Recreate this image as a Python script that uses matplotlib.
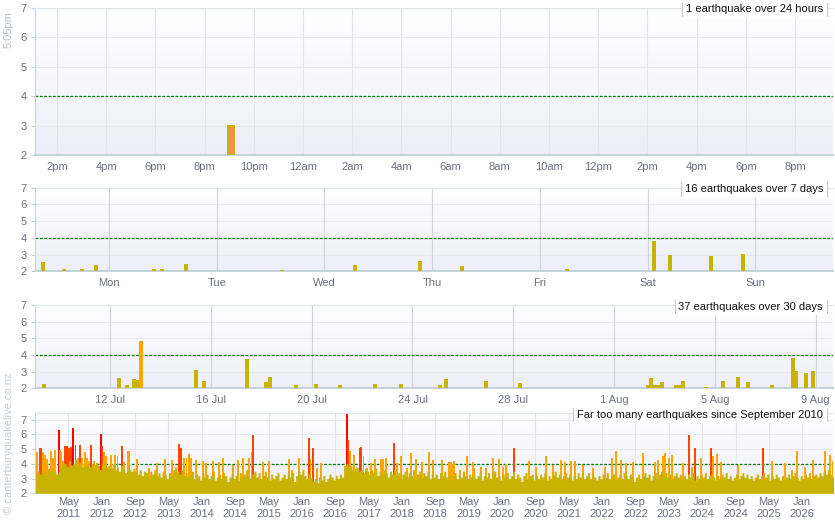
import numpy as np
import matplotlib
matplotlib.use('Agg')
import matplotlib.pyplot as plt
from matplotlib.colors import LinearSegmentedColormap
from matplotlib.lines import Line2D

plt.rcParams['font.family'] = ['Liberation Sans', 'DejaVu Sans']

OLIVE = '#c8b400'
ORANGE = '#ffa500'
REDORANGE = '#ff4500'
RED = '#ff0000'
GREY_TXT = '#6b7080'

# ---- 24 hours (x in hours since midnight of the first day)
day_hours = [21.08]
day_mags = [3.0]
hour_ticks = list(range(14, 45, 2))
hour_labels = ['2pm', '4pm', '6pm', '8pm', '10pm', '12am', '2am', '4am', '6am',
               '8am', '10am', '12pm', '2pm', '4pm', '6pm', '8pm']

# ---- 7 days (x in days from Monday 00:00)
week_days = [-0.613, -0.418, -0.251, -0.121, 0.418, 0.492, 0.715, 1.606,
             2.284, 2.888, 3.278, 4.253, 5.060, 5.209, 5.590, 5.887]
week_mags = [2.56, 2.14, 2.14, 2.38, 2.14, 2.14, 2.44, 2.08,
             2.38, 2.62, 2.32, 2.14, 3.83, 2.98, 2.92, 3.04]
week_labels = ['Mon', 'Tue', 'Wed', 'Thu', 'Fri', 'Sat', 'Sun']

# ---- 30 days (x in days from 12 Jul)
month_days = [-2.63, 0.345, 0.675, 0.94, 1.083, 1.23, 3.413, 3.73, 5.437, 6.19,
              6.35, 7.38, 8.175, 9.127, 10.516, 11.548, 13.095, 13.333, 14.92, 16.27,
              21.35, 21.47, 21.63, 21.75, 21.9, 22.46, 22.58, 22.74, 23.65, 24.33,
              24.92, 25.32, 26.27, 27.1, 27.22, 27.62, 27.9]
month_mags = [2.26, 2.62, 2.2, 2.56, 2.5, 4.84, 3.1, 2.44, 3.76, 2.36,
              2.66, 2.2, 2.26, 2.2, 2.26, 2.26, 2.2, 2.56, 2.44, 2.32,
              2.2, 2.62, 2.2, 2.2, 2.38, 2.2, 2.2, 2.44, 2.08, 2.44,
              2.68, 2.38, 2.2, 3.82, 3.04, 2.92, 3.04]
month_ticks = [0, 4, 8, 12, 16, 20, 24, 28]
month_labels = ['12 Jul', '16 Jul', '20 Jul', '24 Jul', '28 Jul', '1 Aug', '5 Aug', '9 Aug']

# ---- since Sep 2010 (decimal years), half-month background level
base_start = 2010.667
quake_base = [
    3.4, 3.5, 3.3, 3.6, 3.5, 3.4, 3.7, 3.5, 3.6, 3.4, 3.3, 3.5, 3.9, 4.1, 4.0, 3.8, 4.2, 3.9, 4.0, 4.3, 3.9, 4.1, 3.8, 4.0,
    3.9, 4.2, 3.8, 4.0, 3.7, 4.1, 3.9, 3.6, 4.0, 4.2, 3.8, 3.9, 3.7, 4.0, 3.6, 3.8, 3.5, 3.9, 3.7, 3.4, 3.8, 3.6, 3.5, 3.7,
    3.5, 3.3, 3.6, 3.2, 3.5, 3.4, 3.1, 3.5, 3.3, 3.6, 3.2, 3.4, 3.1, 3.5, 3.3, 3.0, 3.4, 3.2, 3.6, 3.8, 3.5, 3.3, 3.6, 3.2,
    3.4, 3.1, 3.3, 3.5, 3.0, 3.3, 3.2, 2.9, 3.4, 3.1, 3.3, 3.0, 3.2, 3.5, 2.9, 3.1, 3.3, 3.0, 3.4, 3.2, 2.8, 3.1, 3.3, 3.0,
    3.2, 2.9, 3.4, 3.1, 3.3, 3.6, 3.2, 3.0, 3.3, 3.5, 3.1, 3.4, 3.0, 3.2, 3.5, 3.1, 2.9, 3.3, 3.0, 3.2, 3.4, 2.9, 3.1, 3.3,
    3.0, 3.3, 3.1, 3.4, 2.8, 3.2, 3.5, 3.3, 3.6, 3.2, 3.0, 3.3, 3.1, 2.8, 3.0, 2.7, 3.1, 2.9, 3.2, 2.8, 3.0, 3.3, 3.1, 2.9,
    3.2, 3.0, 3.3, 3.1, 3.9, 4.0, 3.8, 3.9, 3.6, 3.7, 3.8, 3.5, 3.6, 3.4, 3.7, 3.5, 3.3, 3.6, 3.4, 3.7, 3.2, 3.5, 3.3, 3.6,
    3.4, 3.1, 3.5, 3.3, 3.6, 3.2, 3.4, 3.0, 3.3, 3.5, 3.1, 3.4, 3.2, 3.6, 3.0, 3.3, 3.5, 3.1, 3.4, 3.2, 3.5, 3.0, 3.3, 3.1,
    3.3, 3.0, 3.4, 3.2, 3.5, 3.1, 3.3, 2.9, 3.2, 3.4, 3.0, 3.3, 3.1, 3.5, 3.2, 3.0, 3.3, 3.1, 3.4, 3.0, 3.2, 3.4, 2.9, 3.2,
    3.1, 3.4, 3.0, 3.3, 3.5, 3.1, 3.2, 2.9, 3.3, 3.1, 3.4, 3.0, 3.2, 3.5, 3.0, 3.3, 3.1, 2.8, 3.2, 3.4, 3.0, 3.2, 3.3, 2.9,
    3.2, 3.0, 3.3, 3.1, 3.4, 2.9, 3.2, 3.0, 3.3, 3.5, 3.1, 3.3, 3.0, 3.2, 3.4, 3.1, 3.3, 2.9, 3.2, 3.0, 3.4, 3.1, 3.3, 3.0,
    3.2, 3.4, 3.0, 3.3, 3.1, 2.9, 3.2, 3.0, 3.3, 3.1, 3.4, 3.0, 3.2, 3.3, 2.9, 3.1, 3.3, 3.0, 3.4, 3.2, 3.0, 3.3, 3.1, 2.8,
    3.1, 3.3, 3.0, 3.2, 3.4, 3.1, 3.3, 2.9, 3.2, 3.4, 3.0, 3.3, 3.5, 3.2, 3.4, 3.1, 3.3, 3.0, 3.2, 3.4, 3.1, 3.3, 3.0, 3.2,
    3.0, 3.3, 3.1, 3.4, 2.9, 3.2, 3.0, 3.3, 3.1, 3.4, 3.0, 3.2, 3.3, 3.1, 2.9, 3.2, 3.0, 3.3, 3.1, 3.4, 3.0, 3.2, 2.9, 3.1,
    3.3, 3.0, 3.2, 3.4, 3.1, 3.3, 3.0, 3.2, 2.9, 3.1, 3.3, 3.0, 3.2, 3.4, 3.1, 3.3, 2.9, 3.2, 3.0, 3.3, 3.1, 2.9, 3.2, 3.0,
    3.1, 3.3, 3.0, 3.2, 3.4, 3.1, 2.9, 3.2, 3.0, 3.3, 3.1, 3.4, 3.0, 3.2, 3.3, 3.1, 3.4, 3.2, 3.5, 3.3, 3.6, 3.3, 3.1,
]

spike_years = [
    2010.673, 2010.707, 2010.757, 2010.787, 2010.821, 2010.867, 2010.901, 2010.981, 2011.021, 2011.073,
    2011.141, 2011.173, 2011.193, 2011.233, 2011.267, 2011.307, 2011.347, 2011.381, 2011.426, 2011.476,
    2011.526, 2011.566, 2011.606, 2011.672, 2011.712, 2011.780, 2011.846, 2011.886, 2011.980, 2012.012,
    2012.046, 2012.086, 2012.180, 2012.266, 2012.316, 2012.406, 2012.446, 2012.515, 2012.545, 2012.711,
    2012.939, 2013.099, 2013.259, 2013.405, 2013.545, 2013.585, 2013.645, 2013.695, 2013.745, 2013.791,
    2013.884, 2014.030, 2014.084, 2014.218, 2014.350, 2014.418, 2014.630, 2014.724, 2014.818, 2014.949,
    2014.993, 2015.017, 2015.229, 2015.349, 2015.737, 2015.803, 2015.949, 2016.136, 2016.172, 2016.216,
    2016.308, 2016.376, 2016.896, 2016.928, 2016.962, 2017.042, 2017.152, 2017.182, 2017.232, 2017.296,
    2017.388, 2017.467, 2017.581, 2017.627, 2017.681, 2017.841, 2017.895, 2017.987, 2018.095, 2018.187,
    2018.281, 2018.401, 2018.546, 2018.627, 2018.800, 2018.947, 2018.974, 2019.014, 2019.040, 2019.160,
    2019.306, 2019.414, 2019.440, 2019.586, 2019.680, 2019.814, 2019.934, 2020.014, 2020.080, 2020.239,
    2020.533, 2020.679, 2020.879, 2021.013, 2021.173, 2021.265, 2021.373, 2021.464, 2021.612, 2021.824,
    2022.052, 2022.198, 2022.278, 2022.384, 2022.478, 2022.611, 2022.823, 2023.051, 2023.117, 2023.211,
    2023.251, 2023.343, 2023.397, 2023.623, 2023.743, 2023.797, 2023.851, 2023.971, 2024.182, 2024.210,
    2024.302, 2024.370, 2024.716, 2025.209, 2025.395, 2025.661, 2025.795, 2025.889, 2026.061, 2026.221,
    2026.461, 2026.554, 2026.608,
]
spike_mags = [
    7.1, 4.8, 5.1, 5.1, 4.8, 4.6, 4.3, 4.9, 4.4, 4.95,
    6.3, 4.95, 4.8, 4.2, 5.2, 5.2, 5.1, 5.15, 6.4, 5.3,
    4.4, 5.3, 4.4, 4.8, 4.4, 5.3, 4.2, 3.9, 6.0, 5.2,
    4.8, 4.5, 4.6, 4.6, 4.55, 5.2, 4.15, 4.9, 4.9, 4.3,
    3.7, 4.05, 4.3, 4.25, 5.35, 5.1, 4.4, 4.4, 4.65, 4.4,
    4.25, 4.2, 4.05, 4.2, 4.15, 4.4, 3.9, 4.25, 4.4, 4.4,
    4.8, 5.95, 4.1, 4.2, 4.3, 3.6, 4.4, 5.75, 4.3, 5.05,
    3.7, 4.05, 7.45, 5.6, 4.85, 4.6, 5.1, 5.15, 4.5, 3.75,
    4.05, 4.3, 4.3, 4.3, 4.4, 5.4, 4.05, 4.5, 3.7, 4.75,
    4.35, 4.15, 4.8, 4.25, 4.25, 4.15, 4.15, 4.0, 4.2, 3.6,
    4.55, 4.15, 3.75, 3.8, 3.75, 4.4, 4.35, 3.8, 4.0, 5.05,
    4.2, 3.8, 4.5, 3.95, 4.25, 4.15, 4.2, 4.2, 3.95, 3.7,
    3.8, 4.4, 4.85, 4.25, 4.05, 4.15, 4.75, 4.15, 4.25, 4.5,
    4.75, 4.4, 4.6, 4.05, 5.95, 3.8, 5.1, 4.4, 5.05, 4.5,
    4.65, 4.15, 3.9, 5.1, 4.2, 4.05, 3.6, 4.85, 3.8, 4.25,
    4.9, 4.6, 4.2,
]
long_labels = ['May 2011', 'Jan 2012', 'Sep 2012', 'May 2013', 'Jan 2014', 'Sep 2014',
               'May 2015', 'Jan 2016', 'Sep 2016', 'May 2017', 'Jan 2018', 'Sep 2018',
               'May 2019', 'Jan 2020', 'Sep 2020', 'May 2021', 'Jan 2022', 'Sep 2022',
               'May 2023', 'Jan 2024', 'Sep 2024', 'May 2025', 'Jan 2026']
MONTHS = ['Jan', 'Feb', 'Mar', 'Apr', 'May', 'Jun', 'Jul', 'Aug', 'Sep', 'Oct', 'Nov', 'Dec']

bg_cmap = LinearSegmentedColormap.from_list('bg', ['#ffffff', '#eeeef9'])

W, H = 835, 530
fig = plt.figure(figsize=(W / 100, H / 100), dpi=100)


def make_ax(top, bottom):
    ax = fig.add_axes([35 / W, 1 - bottom / H, 798 / W, (bottom - top) / H])
    ax.imshow(np.linspace(0, 1, 64).reshape(-1, 1), cmap=bg_cmap, aspect='auto',
              extent=[0, 1, 0, 1], transform=ax.transAxes, zorder=0)
    return ax


def style(ax, title, xlim, ylim, xticks, xlabels, vgrid='#dcdde5'):
    ax.set_xlim(*xlim)
    ax.set_ylim(*ylim)
    ax.set_yticks(range(2, 8))
    ax.set_xticks(xticks)
    ax.set_xticklabels(xlabels)
    ax.tick_params(axis='y', length=3, color='#c0d0e0', labelsize=8, labelcolor=GREY_TXT, pad=3)
    ax.tick_params(axis='x', length=0, labelsize=8, labelcolor=GREY_TXT, pad=5)
    for y in range(3, 8):
        ax.axhline(y, color='#e8e8ef', lw=0.8, zorder=0.5)
    for x in xticks:
        ax.axvline(x, color=vgrid, lw=0.8, zorder=0.5)
    ax.axhline(4, color='#008000', lw=0.9, dashes=(2.2, 1.3), zorder=1.5)
    ax.spines['right'].set_visible(False)
    ax.spines['top'].set_color('#dfe6ea')
    ax.spines['top'].set_linewidth(0.8)
    ax.spines['left'].set_color('#c8d4dc')
    ax.spines['left'].set_linewidth(0.8)
    ax.spines['bottom'].set_color('#c4d2dc')
    ax.spines['bottom'].set_linewidth(1.4)
    ax.spines['bottom'].set_zorder(1.8)
    t = ax.annotate(title, xy=(1, 1), xycoords='axes fraction', xytext=(-10, -1.5),
                    textcoords='offset pixels', ha='right', va='center', fontsize=8,
                    color='#111111', zorder=6,
                    bbox=dict(boxstyle='square,pad=0.35', fc='white', ec='none'))
    return t


# panel 1: 24 hours
ax1 = make_ax(8, 155)
ax1.bar(day_hours, np.array(day_mags) - 2, bottom=2, width=0.26,
        facecolor='#f98b5d', edgecolor=OLIVE, linewidth=1.4, zorder=3)
t1 = style(ax1, '1 earthquake over 24 hours', (13.106, 45.54), (2, 7), hour_ticks, hour_labels,
           vgrid='#e4e4ea')

# panel 2: 7 days
ax2 = make_ax(187.5, 271.3)
ax2.bar(week_days, np.array(week_mags) - 2, bottom=2, width=0.036, color=OLIVE, lw=0, zorder=3)
t2 = style(ax2, '16 earthquakes over 7 days', (-0.687, 6.722), (2, 7), range(7), week_labels,
           vgrid='#d2d3da')

# panel 3: 30 days
ax3 = make_ax(305, 388.3)
m3 = np.array(month_mags)
ax3.bar(month_days, m3 - 2, bottom=2, width=0.16, lw=0, zorder=3,
        color=[ORANGE if m >= 4 else OLIVE for m in m3])
t3 = style(ax3, '37 earthquakes over 30 days', (-2.98, 28.69), (2, 7), month_ticks, month_labels,
           vgrid='#d2d3da')

# panel 4: since September 2010
ax4 = make_ax(413, 493.3)
sm = np.array(spike_mags)
spike_cols = [RED if m >= 6 else REDORANGE if m >= 5 else ORANGE for m in sm]
ax4.bar(spike_years, sm - 2, bottom=2, width=0.038, color=spike_cols, lw=0, zorder=2)
base = np.array(quake_base)
edges = base_start + np.arange(len(base) + 1) / 24
ax4.fill_between(edges, 2, np.append(base, base[-1]), step='post', color=OLIVE, lw=0, zorder=2.5)
long_ticks = [int(s[4:]) + MONTHS.index(s[:3]) / 12 for s in long_labels]
t4 = style(ax4, 'Far too many earthquakes since September 2010', (2010.667, 2026.614), (2, 7.45),
           long_ticks, [s.replace(' ', '\n') for s in long_labels], vgrid='#e4e4ea')
ax4.tick_params(axis='x', pad=3)

fig.text(9 / W, 1 - 30 / H, '5:05pm', rotation=90, ha='center', va='center',
         fontsize=8, color='#b4bcc4')
fig.text(9 / W, 1 - 443 / H, '\u00a9 canterburyquakelive.co.nz', rotation=90, ha='center',
         va='center', fontsize=8, color='#c4ccd4')

# little side marks on the title boxes
fig.canvas.draw()
for t in (t1, t2, t3, t4):
    bb = t.get_bbox_patch().get_window_extent()
    for x in (bb.x0, bb.x1):
        fig.add_artist(Line2D([x, x], [bb.y0 + 2, bb.y1 - 2], transform=None,
                              color='#c8c8c8', lw=0.8, zorder=7))

fig.savefig('out.png', dpi=100)
